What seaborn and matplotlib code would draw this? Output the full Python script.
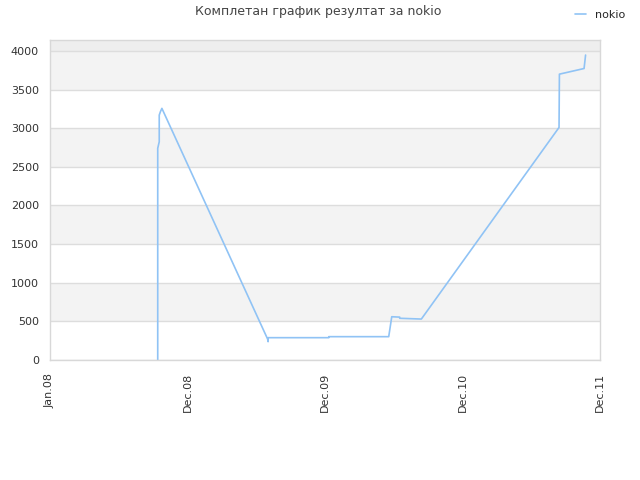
import matplotlib
matplotlib.use("Agg")
import matplotlib.pyplot as plt
import matplotlib.dates as mdates
import seaborn as sns
import pandas as pd
import numpy as np

dates = ["2008-10-11", "2008-10-11", "2008-10-15", "2008-10-15", "2008-10-18", "2008-10-22",
         "2009-07-28", "2009-07-29", "2009-07-29", "2010-01-05", "2010-01-05",
         "2010-06-12", "2010-06-20", "2010-07-11", "2010-07-11", "2010-09-06",
         "2011-09-04", "2011-09-05", "2011-11-09", "2011-11-13"]
values = [0, 2740, 2825, 3170, 3213, 3257,
          268, 237, 289, 289, 302,
          302, 560, 555, 540, 530,
          3010, 3700, 3773, 3947]
series_name = "nokio"
tick_labels = ["Jan.08", "Dec.08", "Dec.09", "Dec.10", "Dec.11"]
title = "Комплетан график резултат за nokio"

df = pd.DataFrame({"date": pd.to_datetime(dates), "value": values, "series": series_name})

sns.set_style("white")
plt.rcParams["font.family"] = ["DejaVu Sans"]

fig = plt.figure(figsize=(6.4, 4.8), dpi=100)
ax = fig.add_axes([50/640, 120/480, 550/640, 320/480])

ymax = 4142
for lo in range(500, 4000, 1000):
    ax.axhspan(lo, lo + 500, color="#f3f3f3", zorder=0, lw=0)
ax.axhspan(4000, ymax, color="#eeeeee", zorder=0, lw=0)

sns.lineplot(data=df, x="date", y="value", hue="series", palette=["#90c3f5"],
             linewidth=1.2, ax=ax, legend=False, estimator=None, sort=False)

x0 = mdates.date2num(pd.Timestamp("2008-01-01"))
x1 = mdates.date2num(pd.Timestamp("2011-12-21"))
ax.set_xlim(x0, x1)
ax.set_ylim(0, ymax)
ax.set_xticks(np.linspace(x0, x1, 5))
ax.set_xticklabels(tick_labels, rotation=90, fontsize=8, color="#333333")
ax.set_yticks(range(0, 4001, 500))
ax.set_yticklabels([str(v) for v in range(0, 4001, 500)], fontsize=8, color="#333333")
ax.tick_params(axis="x", length=0, pad=9)
ax.tick_params(axis="y", length=0, pad=8)
ax.yaxis.grid(True, color="#dddddd", linewidth=1)
ax.set_axisbelow(True)
for s in ax.spines.values():
    s.set_color("#d8d8d8")
    s.set_linewidth(1)
ax.set_xlabel("")
ax.set_ylabel("")

fig.text(318/640, 1 - 12/480, title, ha="center", va="center", fontsize=9, color="#444444")

from matplotlib.lines import Line2D
h = Line2D([0], [0], color="#90c3f5", lw=1.2)
fig.legend([h], [series_name], loc="upper right", bbox_to_anchor=(0.993, 1.0),
           frameon=False, fontsize=8, handlelength=1.0, handletextpad=0.8)

fig.savefig("out.png", dpi=100)
